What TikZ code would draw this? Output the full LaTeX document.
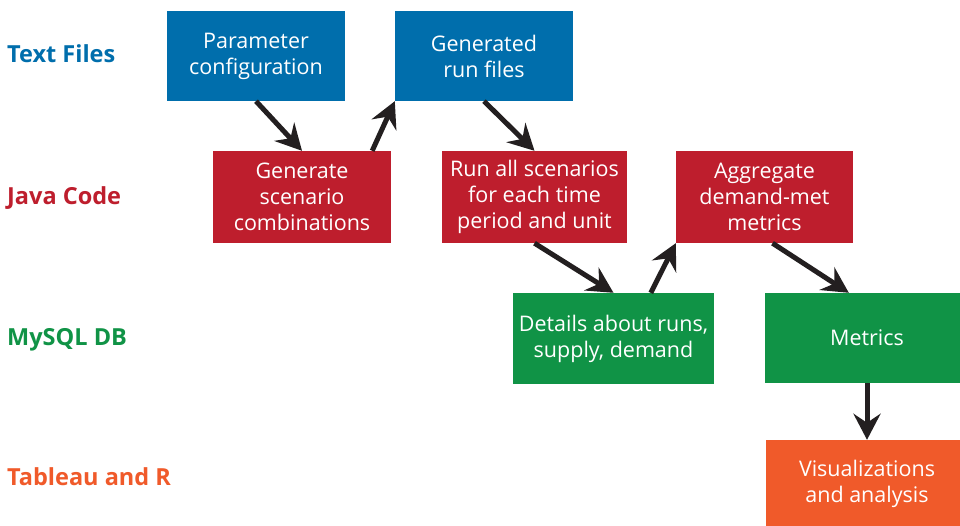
\documentclass[tikz,border=0pt]{standalone}
\usepackage{fontspec}
\setmainfont{Open Sans}
\usetikzlibrary{arrows.meta,calc}
\definecolor{cblue}{RGB}{0,110,172}
\definecolor{cred}{RGB}{190,30,45}
\definecolor{cgreen}{RGB}{16,147,70}
\definecolor{corange}{RGB}{240,90,42}
\definecolor{carrow}{RGB}{35,31,32}
\tikzset{
  box/.style={rectangle, inner sep=0pt, text=white, align=center,
    font=\fontsize{21.5}{26}\selectfont},
  bluebox/.style={box, fill=cblue},
  redbox/.style={box, fill=cred},
  greenbox/.style={box, fill=cgreen},
  orangebox/.style={box, fill=corange},
  lane/.style={anchor=base west, inner sep=0pt, font=\fontsize{23.5}{26}\selectfont\bfseries},
  flow/.style={draw=carrow, line width=5pt,
    -{Stealth[length=26pt, width=27pt, inset=9pt]}},
}
\begin{document}
\begin{tikzpicture}[x=1pt,y=-1pt]
\clip (0,0) rectangle (960,526);
\fill[white] (0,0) rectangle (960,526);

\node[lane, text=cblue] (l1) at (7,63) {Text Files};
\node[lane, text=cred] (l2) at (7,205) {Java Code};
\node[lane, text=cgreen] (l3) at (7,345) {MySQL DB};
\node[lane, text=corange] (l4) at (7,485) {Tableau and R};

\node[bluebox, minimum width=178pt, minimum height=90pt] (p1) at (256,56) {Parameter\\configuration};
\node[bluebox, minimum width=178pt, minimum height=90pt] (p2) at (484,56) {Generated\\run files};
\node[redbox, minimum width=178pt, minimum height=92pt] (j1) at (302,197) {Generate\\scenario\\combinations};
\node[redbox, minimum width=185pt, minimum height=92pt] (j2) at (534.5,197) {Run all scenarios\\for each time\\period and unit};
\node[redbox, minimum width=177pt, minimum height=92pt] (j3) at (764.5,197) {Aggregate\\demand-met\\metrics};
\node[greenbox, minimum width=201pt, minimum height=91pt] (m1) at (613.5,338.5) {Details about runs,\\supply, demand};
\node[greenbox, minimum width=204pt, minimum height=90pt] (m2) at (867,338) {Metrics};
\node[orangebox, minimum width=202pt, minimum height=88pt] (t1) at (867,484) {Visualizations\\and analysis};

\draw[flow] (p1.south) -- (j1.north);
\draw[flow] ($(j1.north east)+(-19,0)$) -- (p2.south west);
\draw[flow] (p2.south) -- (j2.north);
\draw[flow] (j2.south) -- (m1.north);
\draw[flow] ($(m1.north west)+(138,0)$) -- (j3.south west);
\draw[flow] ($(j3.south)+(8,0)$) -- ($(m2.north west)+(84,0)$);
\draw[flow] (m2.south) -- (t1.north);
\end{tikzpicture}
\end{document}
